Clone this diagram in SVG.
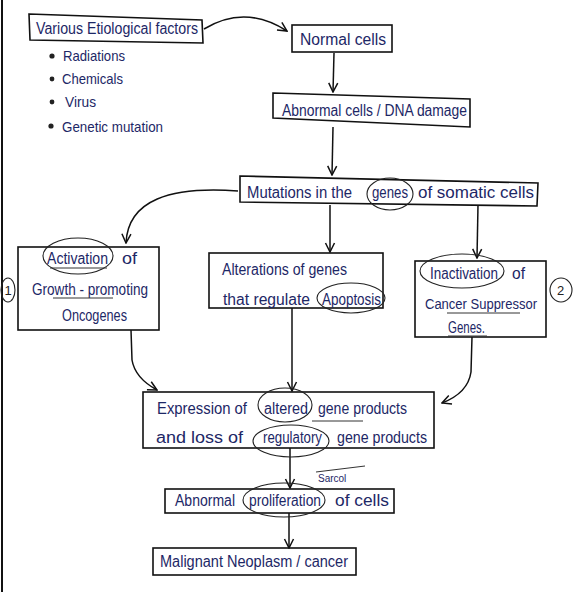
<svg xmlns="http://www.w3.org/2000/svg" width="585" height="592" viewBox="0 0 585 592">
<defs>
<style>
.box{fill:none;stroke:#111;stroke-width:1.6}
.t{font-family:"Liberation Sans",Arial,sans-serif;font-size:16px;fill:#1d2766}
.s{font-family:"Liberation Sans",Arial,sans-serif;font-size:15px;fill:#1d2766}
.n{font-family:"Liberation Sans",Arial,sans-serif;font-size:13px;fill:#222}
.c{fill:none;stroke:#222;stroke-width:1.1}
.u{fill:none;stroke:#333;stroke-width:1}
.e{fill:none;stroke:#111;stroke-width:1.5}
</style>
<marker id="ah" viewBox="0 0 12 12" refX="11" refY="6" markerWidth="12" markerHeight="12" markerUnits="userSpaceOnUse" orient="auto">
<polyline points="2,1.5 11,6 2,10.5" fill="none" stroke="#111" stroke-width="1.5"/>
</marker>
</defs>
<rect width="585" height="592" fill="#fff"/>
<line x1="2" y1="0" x2="2" y2="592" stroke="#111" stroke-width="2"/>

<g id="connectors">
<path class="e" d="M204,29 Q245,4 287,31" marker-end="url(#ah)"/>
<path class="e" d="M334,53 L333,92" marker-end="url(#ah)"/>
<path class="e" d="M333,127 L332,175" marker-end="url(#ah)"/>
<path class="e" d="M238,191 C170,186 128,200 126,243" marker-end="url(#ah)"/>
<path class="e" d="M330,205 L330,252" marker-end="url(#ah)"/>
<path class="e" d="M478,205 L477,258" marker-end="url(#ah)"/>
<path class="e" d="M131,330 L132,360 Q135,378 157,390" marker-end="url(#ah)"/>
<path class="e" d="M292,308 L292,391" marker-end="url(#ah)"/>
<path class="e" d="M472,337 L471,372 Q468,393 442,403" marker-end="url(#ah)"/>
<path class="e" d="M290,448 L290,488" marker-end="url(#ah)"/>
<path class="e" d="M289,513 L289,548" marker-end="url(#ah)"/>
</g>

<g id="etiological">
<polygon class="box" points="29,14 202,20 203,43 30,40"/>
<text class="t" x="36" y="34" textLength="162" lengthAdjust="spacingAndGlyphs">Various Etiological factors</text>
<circle cx="52" cy="56" r="2.6" fill="#222"/>
<text class="s" x="63" y="61" textLength="62" lengthAdjust="spacingAndGlyphs">Radiations</text>
<circle cx="52" cy="79" r="2.4" fill="#222"/>
<text class="s" x="62" y="84" textLength="61" lengthAdjust="spacingAndGlyphs">Chemicals</text>
<circle cx="52" cy="102" r="2.4" fill="#222"/>
<text class="s" x="65" y="107" textLength="31" lengthAdjust="spacingAndGlyphs">Virus</text>
<circle cx="51" cy="126" r="2.6" fill="#222"/>
<text class="s" x="62" y="132" textLength="101" lengthAdjust="spacingAndGlyphs">Genetic mutation</text>
</g>

<g id="normal">
<rect class="box" x="292" y="25" width="100" height="27"/>
<text class="t" x="300" y="45" textLength="86" lengthAdjust="spacingAndGlyphs">Normal cells</text>
</g>

<g id="abnormal">
<polygon class="box" points="273,93 470,99 470,127 273,118"/>
<text class="t" x="282" y="116" textLength="185" lengthAdjust="spacingAndGlyphs">Abnormal cells / DNA damage</text>
</g>

<g id="mutations">
<polygon class="box" points="240,176 538,183 537,206 240,202"/>
<text class="t" x="247" y="198" textLength="105" lengthAdjust="spacingAndGlyphs">Mutations in the</text>
<text class="t" x="372" y="198" textLength="36" lengthAdjust="spacingAndGlyphs">genes</text>
<text class="t" x="418" y="198" textLength="116" lengthAdjust="spacingAndGlyphs">of somatic cells</text>
<ellipse class="c" cx="390" cy="194" rx="23" ry="16"/>
</g>

<g id="oncogenes">
<rect class="box" x="18" y="247" width="141" height="83"/>
<text class="t" x="47" y="264" textLength="61" lengthAdjust="spacingAndGlyphs">Activation</text>
<text class="t" x="122" y="264" textLength="15" lengthAdjust="spacingAndGlyphs">of</text>
<ellipse class="c" cx="78" cy="256" rx="35" ry="18"/>
<line class="u" x1="50" y1="268" x2="107" y2="268"/>
<text class="t" x="32" y="295" textLength="116" lengthAdjust="spacingAndGlyphs">Growth - promoting</text>
<line class="u" x1="53" y1="298" x2="113" y2="298"/>
<text class="t" x="62" y="321" textLength="65" lengthAdjust="spacingAndGlyphs">Oncogenes</text>
<ellipse class="c" cx="8" cy="290" rx="7" ry="12"/>
<text class="n" x="4.5" y="295">1</text>
</g>

<g id="apoptosis">
<rect class="box" x="209" y="253" width="174" height="55"/>
<text class="t" x="222" y="275" textLength="125" lengthAdjust="spacingAndGlyphs">Alterations of genes</text>
<text class="t" x="223" y="305" textLength="87" lengthAdjust="spacingAndGlyphs">that regulate</text>
<text class="t" x="322" y="305" textLength="59" lengthAdjust="spacingAndGlyphs">Apoptosis</text>
<ellipse class="c" cx="351" cy="298" rx="34" ry="15"/>
</g>

<g id="suppressor">
<rect class="box" x="415" y="261" width="131" height="76"/>
<text class="t" x="430" y="279" textLength="68" lengthAdjust="spacingAndGlyphs">Inactivation</text>
<text class="t" x="512" y="279" textLength="13" lengthAdjust="spacingAndGlyphs">of</text>
<ellipse class="c" cx="462" cy="271" rx="42" ry="17"/>
<text class="t" x="425" y="309" style="font-size:14px" textLength="112" lengthAdjust="spacingAndGlyphs">Cancer Suppressor</text>
<line class="u" x1="447" y1="313" x2="520" y2="313"/>
<text class="t" x="448" y="333" textLength="37" lengthAdjust="spacingAndGlyphs">Genes.</text>
<line class="u" x1="448" y1="336" x2="487" y2="336"/>
<ellipse class="c" cx="561" cy="290" rx="11" ry="12"/>
<text class="n" x="557" y="295">2</text>
</g>

<g id="expression">
<rect class="box" x="143" y="392" width="291" height="56"/>
<text class="t" x="157" y="414" textLength="90" lengthAdjust="spacingAndGlyphs">Expression of</text>
<text class="t" x="264" y="414" textLength="44" lengthAdjust="spacingAndGlyphs">altered</text>
<text class="t" x="318" y="414" textLength="89" lengthAdjust="spacingAndGlyphs">gene products</text>
<ellipse class="c" cx="285" cy="405" rx="27" ry="17"/>
<line class="u" x1="312" y1="421" x2="363" y2="421"/>
<text class="t" x="156" y="443" textLength="87" lengthAdjust="spacingAndGlyphs">and loss of</text>
<text class="t" x="263" y="443" textLength="59" lengthAdjust="spacingAndGlyphs">regulatory</text>
<text class="t" x="337" y="443" textLength="90" lengthAdjust="spacingAndGlyphs">gene products</text>
<ellipse class="c" cx="291" cy="441" rx="38" ry="16"/>
</g>

<g id="proliferation">
<rect class="box" x="165" y="489" width="229" height="24"/>
<text class="t" x="175" y="506" textLength="60" lengthAdjust="spacingAndGlyphs">Abnormal</text>
<text class="t" x="249" y="506" textLength="72" lengthAdjust="spacingAndGlyphs">proliferation</text>
<text class="t" x="335" y="506" textLength="54" lengthAdjust="spacingAndGlyphs">of cells</text>
<ellipse class="c" cx="284" cy="500" rx="41" ry="17"/>
<text class="s" x="318" y="482" style="font-size:10px">Sarcol</text>
<line class="u" x1="316" y1="472" x2="365" y2="466"/>
</g>

<g id="malignant">
<rect class="box" x="153" y="548" width="203" height="27"/>
<text class="t" x="160" y="567" textLength="188" lengthAdjust="spacingAndGlyphs">Malignant Neoplasm / cancer</text>
</g>
</svg>
